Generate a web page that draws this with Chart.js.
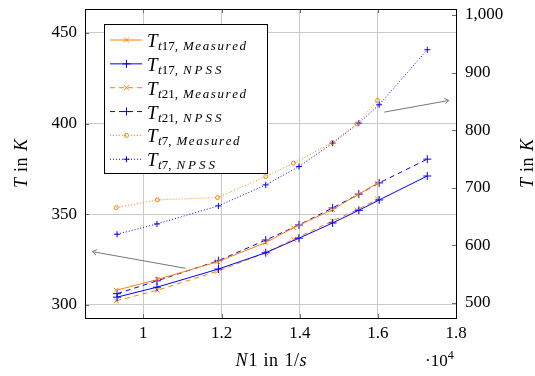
<!DOCTYPE html>
<html>
<head>
<meta charset="utf-8">
<script src="https://cdn.jsdelivr.net/npm/chart.js@4.4.1/dist/chart.umd.min.js"></script>
<style>
  html, body { margin: 0; padding: 0; background: #fff; }
  canvas { display: block; }
</style>
</head>
<body>
<canvas id="temps" width="535" height="376"></canvas>
<script>
// spool speed N1 in 1/s
const n1Measured = [9310, 10360, 11900, 13130, 13840, 14840, 15460, 15990];
const n1Npss = [9330, 10350, 11920, 13130, 13980, 14840, 15510, 16030, 17260];

// total temperatures in K
const tt17Measured = [308.1, 314.0, 323.8, 334.4, 342.6, 352.6, 360.5, 367.1];
const tt17Npss = [304.3, 309.8, 319.8, 328.8, 336.8, 345.2, 352.2, 357.9, 371.1];
const tt21Measured = [302.3, 308.1, 318.6, 328.8, 336.2, 346.3, 352.4, 358.3];
const tt21Npss = [306.2, 313.3, 324.4, 335.8, 344.1, 353.5, 361.1, 367.3, 380.4];
const tt7Measured = [665.6, 679, 683, 719.5, 742.8, 778.6, 811, 851.6];
const tt7Npss = [619.4, 637.3, 668.6, 705.1, 736.9, 777.6, 812.3, 844.1, 939.7];

const xTicks = [10000, 12000, 14000, 16000, 18000];
const leftTicks = [300, 350, 400, 450];
const rightTicks = [500, 600, 700, 800, 900, 1000];

// station index and source for each legend entry
const legendStation = ['17', '17', '21', '21', '7', '7'];
const legendSource = ['Measured', 'NPSS', 'Measured', 'NPSS', 'Measured', 'NPSS'];

// arrows telling which axis a group of curves belongs to (data units)
const axisArrows = [
  { axis: 'yL', from: [11080, 320.2], to: [8700, 329.4] },
  { axis: 'yR', from: [16160, 831.4], to: [17810, 851.6] }
];

const serif = '"Liberation Serif", "Times New Roman", serif';
const orange = 'rgb(255,128,0)';
const blue = 'rgb(0,0,255)';
const gridColor = '#c9c9c9';

const pairs = (xs, ys) => xs.map((x, i) => ({ x: x, y: ys[i] }));

// draws a run of text pieces with their own fonts, returns end x
function drawParts(ctx, parts, x, y, dry) {
  for (const p of parts) {
    ctx.font = p.font;
    const track = p.track || 0;
    for (const ch of p.text) {
      if (!dry) ctx.fillText(ch, x, y + (p.dy || 0));
      x += ctx.measureText(ch).width + track;
    }
    x += p.gap || 0;
  }
  return x;
}

function drawCentered(ctx, parts, cx, y) {
  const w = drawParts(ctx, parts, 0, 0, true);
  drawParts(ctx, parts, cx - w / 2, y);
}

const tInK = [
  { text: 'T', font: `italic 18px ${serif}`, gap: 6 },
  { text: 'in', font: `18px ${serif}`, track: 0.5, gap: 6 },
  { text: 'K', font: `italic 18px ${serif}` }
];

// fixed box sizes so the plot area does not move with label overhang
const fixBox = (w, h) => s => {
  if (w) s.width = w;
  if (h) s.height = h;
  s.paddingTop = 0; s.paddingBottom = 0;
  s.paddingLeft = 0; s.paddingRight = 0;
};

const framePlugin = {
  id: 'frame',
  beforeDatasetsDraw(chart) {
    const { ctx, chartArea: a, scales } = chart;
    ctx.save();
    ctx.strokeStyle = '#707070';
    ctx.lineWidth = 1;
    ctx.beginPath();
    for (const v of xTicks) {
      const x = Math.round(scales.x.getPixelForValue(v)) + 0.5;
      ctx.moveTo(x, a.bottom); ctx.lineTo(x, a.bottom - 4);
      ctx.moveTo(x, a.top); ctx.lineTo(x, a.top + 4);
    }
    for (const v of leftTicks) {
      const y = Math.round(scales.yL.getPixelForValue(v)) + 0.5;
      ctx.moveTo(a.left, y); ctx.lineTo(a.left + 4, y);
    }
    for (const v of rightTicks) {
      const y = Math.round(scales.yR.getPixelForValue(v)) + 0.5;
      ctx.moveTo(a.right, y); ctx.lineTo(a.right - 5, y);
    }
    ctx.stroke();
    ctx.restore();
  },
  afterDatasetsDraw(chart) {
    const { ctx, chartArea: a, scales } = chart;
    ctx.save();
    // axis arrows
    ctx.strokeStyle = '#777';
    ctx.lineWidth = 1;
    for (const arr of axisArrows) {
      const y = scales[arr.axis];
      const x1 = scales.x.getPixelForValue(arr.from[0]), y1 = y.getPixelForValue(arr.from[1]);
      const x2 = scales.x.getPixelForValue(arr.to[0]), y2 = y.getPixelForValue(arr.to[1]);
      const ang = Math.atan2(y2 - y1, x2 - x1);
      ctx.beginPath();
      ctx.moveTo(x1, y1); ctx.lineTo(x2, y2);
      for (const s of [-1, 1]) {
        ctx.moveTo(x2, y2);
        ctx.lineTo(x2 - 5 * Math.cos(ang + s * 0.6), y2 - 5 * Math.sin(ang + s * 0.6));
      }
      ctx.stroke();
    }
    // plot frame
    ctx.strokeStyle = '#000';
    ctx.strokeRect(a.left + 0.5, a.top + 0.5, a.right - a.left - 1, a.bottom - a.top);
    ctx.restore();
  },
  afterDraw(chart) {
    const { ctx, chartArea: a } = chart;
    ctx.save();
    ctx.fillStyle = '#000';
    ctx.textBaseline = 'alphabetic';

    // axis titles
    drawCentered(ctx, [
      { text: 'N', font: `italic 18px ${serif}`, gap: 1 },
      { text: '1', font: `18px ${serif}`, gap: 6 },
      { text: 'in', font: `18px ${serif}`, track: 0.5, gap: 6 },
      { text: '1/', font: `18px ${serif}`, track: 0.5 },
      { text: 's', font: `italic 18px ${serif}` }
    ], (a.left + a.right) / 2, 366);
    drawParts(ctx, [
      { text: '\u00b710', font: `17px ${serif}` },
      { text: '4', font: `12px ${serif}`, dy: -7 }
    ], 425, 366);

    ctx.save();
    ctx.translate(27, (a.top + a.bottom) / 2);
    ctx.rotate(-Math.PI / 2);
    drawCentered(ctx, tInK, 0, 0);
    ctx.restore();
    ctx.save();
    ctx.translate(533, (a.top + a.bottom) / 2);
    ctx.rotate(-Math.PI / 2);
    drawCentered(ctx, tInK, 0, 0);
    ctx.restore();

    // legend box
    ctx.fillStyle = '#fff';
    ctx.fillRect(104.5, 24.5, 163, 149);
    ctx.strokeStyle = '#000';
    ctx.lineWidth = 1;
    ctx.strokeRect(104.5, 24.5, 163, 149);
    chart.data.datasets.forEach((ds, i) => {
      const y = 40 + i * 23.85;
      ctx.strokeStyle = ds.borderColor;
      ctx.lineWidth = ds.borderWidth;
      ctx.setLineDash(ds.borderDash || []);
      ctx.beginPath();
      ctx.moveTo(110, y); ctx.lineTo(142, y);
      ctx.stroke();
      ctx.setLineDash([]);
      ctx.fillStyle = ds.pointBackgroundColor || 'rgba(0,0,0,0)';
      Chart.helpers.drawPoint(ctx, { pointStyle: ds.pointStyle, radius: ds.pointRadius, borderWidth: 1, rotation: 0 }, 126.5, y);
      ctx.fillStyle = '#000';
      drawParts(ctx, [
        { text: 'T', font: `italic 19px ${serif}`, gap: 0.5 },
        { text: 't', font: `italic 13px ${serif}`, dy: 3 },
        { text: legendStation[i] + ',', font: `13px ${serif}`, dy: 3, gap: 5 },
        { text: legendSource[i], font: `italic 13px ${serif}`, dy: 3, track: legendSource[i] === 'NPSS' ? 3 : 1.6 }
      ], 147, y + 7);
    });
    ctx.restore();
  }
};

const line = (label, xs, ys, axis, color, dash, style, radius, width) => ({
  label: label,
  data: pairs(xs, ys),
  yAxisID: axis,
  borderColor: color,
  borderWidth: width,
  borderDash: dash,
  pointStyle: style,
  pointRadius: radius,
  pointBorderColor: color,
  pointBorderWidth: 1,
  pointBackgroundColor: 'rgba(0,0,0,0)',
  fill: false,
  tension: 0
});

new Chart(document.getElementById('temps'), {
  type: 'line',
  data: {
    datasets: [
      line('Tt17, Measured', n1Measured, tt17Measured, 'yL', orange, [], 'crossRot', 3.5, 1),
      line('Tt17, NPSS', n1Npss, tt17Npss, 'yL', blue, [], 'cross', 4, 1),
      line('Tt21, Measured', n1Measured, tt21Measured, 'yL', orange, [5, 4], 'crossRot', 3.5, 1),
      line('Tt21, NPSS', n1Npss, tt21Npss, 'yL', blue, [5, 4], 'cross', 4, 1),
      line('Tt7, Measured', n1Measured, tt7Measured, 'yR', orange, [1, 2], 'circle', 2, 1),
      line('Tt7, NPSS', n1Npss, tt7Npss, 'yR', blue, [1, 2], 'cross', 3, 1)
    ]
  },
  options: {
    responsive: false,
    animation: false,
    devicePixelRatio: 1,
    layout: { padding: { top: 9, left: 0, right: 0, bottom: 0 } },
    plugins: { legend: { display: false }, tooltip: { enabled: false } },
    scales: {
      x: {
        type: 'linear',
        position: 'bottom',
        min: 8510,
        max: 18020,
        afterBuildTicks: s => { s.ticks = xTicks.map(v => ({ value: v })); },
        afterFit: fixBox(0, 58),
        grid: { color: gridColor, drawTicks: false },
        border: { display: false },
        ticks: {
          font: { family: serif, size: 17 },
          color: '#000',
          padding: 5,
          maxRotation: 0,
          callback: v => String(v / 1e4)
        }
      },
      yL: {
        type: 'linear',
        position: 'left',
        min: 292.8,
        max: 463.2,
        afterBuildTicks: s => { s.ticks = leftTicks.map(v => ({ value: v })); },
        afterFit: fixBox(85, 0),
        grid: { color: gridColor, drawTicks: false },
        border: { display: false },
        ticks: { font: { family: serif, size: 17 }, color: '#000', padding: 8 }
      },
      yR: {
        type: 'linear',
        position: 'right',
        min: 474,
        max: 1010.4,
        afterBuildTicks: s => { s.ticks = rightTicks.map(v => ({ value: v })); },
        afterFit: fixBox(78, 0),
        grid: { drawOnChartArea: false, drawTicks: false },
        border: { display: false },
        ticks: {
          font: { family: serif, size: 17 },
          color: '#000',
          padding: 8,
          callback: v => v.toLocaleString('en-US')
        }
      }
    }
  },
  plugins: [framePlugin]
});
</script>
</body>
</html>
